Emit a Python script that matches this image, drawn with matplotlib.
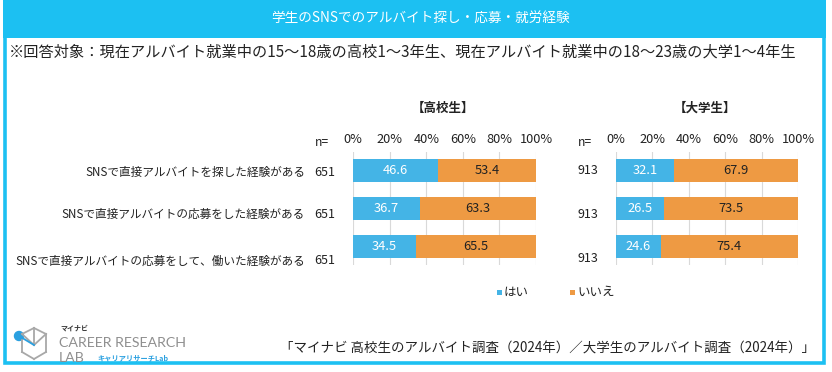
import matplotlib
matplotlib.use('Agg')
import matplotlib.pyplot as plt
from matplotlib.patches import Rectangle, Circle
from matplotlib.lines import Line2D

plt.rcParams['font.family'] = ['Noto Sans CJK JP', 'DejaVu Sans']

# データ
categories = ['SNSで直接アルバイトを探した経験がある',
              'SNSで直接アルバイトの応募をした経験がある',
              'SNSで直接アルバイトの応募をして、働いた経験がある']
hs_yes = [46.6, 36.7, 34.5]
hs_no = [53.4, 63.3, 65.5]
hs_n = [651, 651, 651]
univ_yes = [32.1, 26.5, 24.6]
univ_no = [67.9, 73.5, 75.4]
univ_n = [913, 913, 913]
tick_labels = ['0%', '20%', '40%', '60%', '80%', '100%']
series_names = ['はい', 'いいえ']

BLUE = '#44b4e6'
ORANGE = '#ee9a43'
CYAN = '#1cc0f2'
TXT = '#222222'

W, H = 832, 372
fig = plt.figure(figsize=(W / 100, H / 100), dpi=100)

# 背景(ピクセル座標)
bg = fig.add_axes([0, 0, 1, 1])
bg.set_xlim(0, W)
bg.set_ylim(H, 0)
bg.axis('off')

bg.add_patch(Rectangle((3, 0), 823, 38, color=CYAN, lw=0))
bg.add_patch(Rectangle((4.75, 1.75), 819.5, 361.5, fill=False, ec=CYAN, lw=2.6))
bg.text(420, 19, '学生のSNSでのアルバイト探し・応募・就労経験', color='white',
        fontsize=9.8, ha='center', va='center')
bg.text(9, 52, '※回答対象：現在アルバイト就業中の15～18歳の高校1～3年生、現在アルバイト就業中の18～23歳の大学1～4年生',
        color=TXT, fontsize=10.95, ha='left', va='center')

# ラベル行(少しずつ下にずれている)
label_y = [172, 214, 261]
for cat, y in zip(categories, label_y):
    bg.text(305, y, cat, fontsize=8.4, color=TXT, ha='right', va='center')


def draw_panel(x0, x1, yes, no, ns, title, n_x, n_y):
    ax = fig.add_axes([x0 / W, 1 - 265 / H, (x1 - x0) / W, 113 / H])
    rows = range(len(yes))
    ax.barh(rows, yes, height=0.61, color=BLUE, zorder=2)
    ax.barh(rows, no, left=yes, height=0.61, color=ORANGE, zorder=2)
    for i, (a, b) in enumerate(zip(yes, no)):
        ax.text(a / 2, i, f'{a:.1f}', color='white', fontsize=9.3,
                ha='center', va='center', zorder=3)
        ax.text(a + b / 2, i, f'{b:.1f}', color=TXT, fontsize=9.3,
                ha='center', va='center', zorder=3)
    ax.set_xlim(0, 100)
    ax.set_ylim(2.5, -0.5)
    ax.set_xticks(range(0, 101, 20))
    ax.set_xticklabels(tick_labels)
    ax.xaxis.tick_top()
    ax.tick_params(axis='x', length=0, pad=4, labelsize=9.2, labelcolor=TXT)
    ax.set_yticks([])
    ax.grid(axis='x', color='#d9d9d9', lw=0.8, zorder=0)
    for s in ax.spines.values():
        s.set_visible(False)
    ax.patch.set_alpha(0)
    bg.text((x0 + x1) / 2 - 2, 108, title, fontsize=9, fontweight='bold',
            color=TXT, ha='center', va='center')
    bg.text(n_x, 143, 'n=', fontsize=8.8, color=TXT, ha='center', va='center')
    for n, y in zip(ns, n_y):
        bg.text(n_x + 3, y, str(n), fontsize=9, color=TXT, ha='center', va='center')


draw_panel(353, 536, hs_yes, hs_no, hs_n, '【高校生】', 322, label_y)
draw_panel(616, 798, univ_yes, univ_no, univ_n, '【大学生】', 585, [170, 214, 258])

# 凡例
for name, col, x in zip(series_names, [BLUE, ORANGE], [497, 570]):
    bg.add_patch(Rectangle((x, 290), 5, 5, color=col, lw=0))
    bg.text(x + 7, 292.5, name, fontsize=9, color=TXT, ha='left', va='center')

# ロゴ
gray = '#8f8f8f'
cube = [((22, 334), (34, 328)), ((34, 328), (46, 334)), ((46, 334), (46, 352)),
        ((46, 352), (34, 359)), ((34, 359), (22, 352)), ((22, 352), (22, 340)),
        ((34, 328), (34, 345)), ((34, 345), (46, 334)), ((22, 334), (34, 345))]
for (a, b) in cube:
    bg.add_line(Line2D([a[0], b[0]], [a[1], b[1]], color='#a8a8a8', lw=1.3))
bg.add_patch(Circle((19, 336), 4.5, color='#2aa0e0'))
bg.add_line(Line2D([19, 34], [336, 345], color='#2aa0e0', lw=1.3))
bg.text(60, 328.5, 'マイナビ', fontsize=5, fontweight='bold', color='#333333',
        ha='left', va='center')
bg.text(59, 343, 'CAREER RESEARCH', fontsize=10.2, color=gray, ha='left',
        va='center', family=['Lato', 'DejaVu Sans'])
bg.text(59, 358, 'LAB', fontsize=10.2, color=gray, ha='left', va='center',
        family=['Lato', 'DejaVu Sans'])
bg.text(97, 358, 'キャリアリサーチLab', fontsize=5.2, fontweight='bold',
        color='#2aa0e0', ha='left', va='center')

bg.text(815, 349, '「マイナビ 高校生のアルバイト調査（2024年）／大学生のアルバイト調査（2024年）」',
        fontsize=9.7, color=TXT, ha='right', va='center')

fig.savefig('out.png', dpi=100)
